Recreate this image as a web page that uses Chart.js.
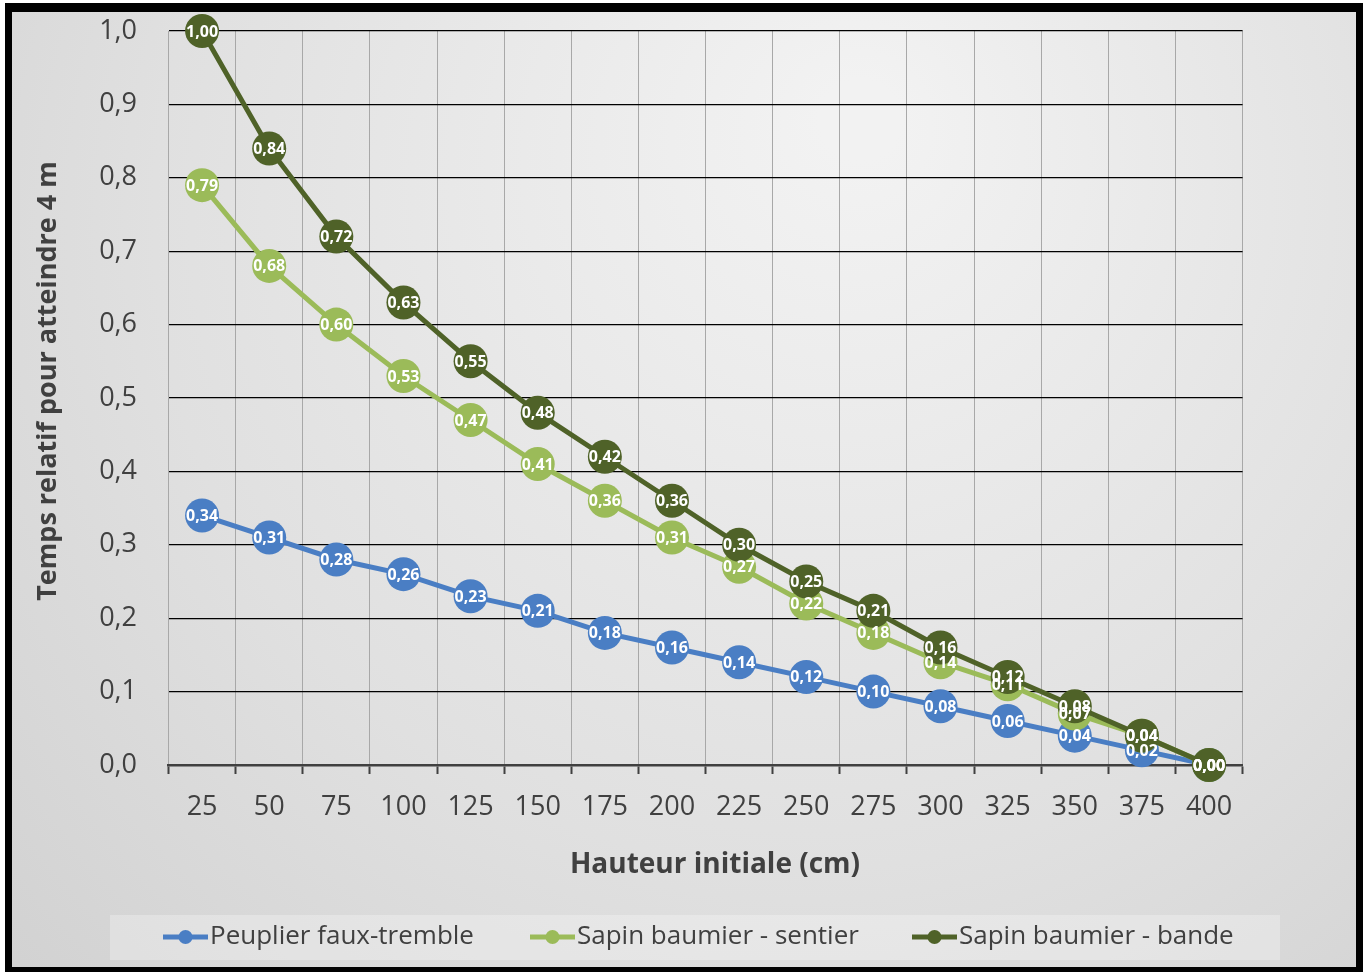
<!DOCTYPE html>
<html lang="fr">
<head>
<meta charset="utf-8">
<title>Temps relatif pour atteindre 4 m</title>
<script src="https://cdn.jsdelivr.net/npm/chart.js@4/dist/chart.umd.min.js"></script>
<style>
  html, body { margin: 0; padding: 0; background: #ffffff; }
  #wrap { position: relative; width: 1367px; height: 972px; }
  canvas { display: block; }
</style>
</head>
<body>
<div id="wrap"><canvas id="chart" width="1367" height="972"></canvas></div>
<script>
// Hauteur initiale (cm)
const categories = ['25', '50', '75', '100', '125', '150', '175', '200', '225', '250', '275', '300', '325', '350', '375', '400'];

// Temps relatif pour atteindre 4 m
const peuplier = [0.34, 0.31, 0.28, 0.26, 0.23, 0.21, 0.18, 0.16, 0.14, 0.12, 0.10, 0.08, 0.06, 0.04, 0.02, 0.00];
const sapinSentier = [0.79, 0.68, 0.60, 0.53, 0.47, 0.41, 0.36, 0.31, 0.27, 0.22, 0.18, 0.14, 0.11, 0.07, 0.04, 0.00];
const sapinBande = [1.00, 0.84, 0.72, 0.63, 0.55, 0.48, 0.42, 0.36, 0.30, 0.25, 0.21, 0.16, 0.12, 0.08, 0.04, 0.00];

const seriesNames = ['Peuplier faux-tremble', 'Sapin baumier - sentier', 'Sapin baumier - bande'];
const seriesColors = ['#4a7ec4', '#9bbb59', '#4f6228'];

const yTitle = 'Temps relatif pour atteindre 4 m';
const xTitle = 'Hauteur initiale (cm)';

const TICK_FONT = '"Open Sans", "DejaVu Sans", sans-serif';
const TITLE_FONT = '"Open Sans", Lato, sans-serif';

function frName(v, digits) {
  return v.toFixed(digits).replace('.', ',');
}

function makeDataset(label, data, color, order) {
  return {
    label: label,
    data: data,
    borderColor: color,
    backgroundColor: color,
    borderWidth: 5,
    pointRadius: 17,
    pointHoverRadius: 17,
    pointBorderWidth: 0,
    pointBackgroundColor: color,
    tension: 0,
    clip: false,
    order: order
  };
}

// Frame, gradient background and legend strip
const backdrop = {
  id: 'backdrop',
  beforeDraw(chart) {
    const ctx = chart.ctx;
    ctx.save();
    ctx.fillStyle = '#ffffff';
    ctx.fillRect(0, 0, chart.width, chart.height);
    ctx.fillStyle = '#000000';
    ctx.fillRect(5, 3, 1358, 969);
    const g = ctx.createRadialGradient(860, 120, 40, 760, 300, 1150);
    g.addColorStop(0, '#f2f2f2');
    g.addColorStop(0.55, '#e0e0e0');
    g.addColorStop(1, '#cdcdcd');
    ctx.fillStyle = g;
    ctx.fillRect(12, 12, 1344, 955);
    // legend strip
    ctx.fillStyle = 'rgba(255,255,255,0.28)';
    ctx.fillRect(110, 915, 1170, 45);
    ctx.restore();
  }
};

// Axis titles
const axisTitles = {
  id: 'axisTitles',
  afterDraw(chart) {
    const ctx = chart.ctx;
    ctx.save();
    ctx.fillStyle = '#404040';
    ctx.textAlign = 'center';
    ctx.textBaseline = 'middle';
    ctx.font = 'bold 28px ' + TITLE_FONT;
    ctx.fillText(xTitle, 715, 865);
    ctx.font = 'bold 27px ' + TITLE_FONT;
    ctx.translate(48, 381);
    ctx.rotate(-Math.PI / 2);
    ctx.fillText(yTitle, 0, 0);
    ctx.restore();
  }
};

// Value labels inside the markers, drawn after every series
const valueLabels = {
  id: 'valueLabels',
  afterDatasetsDraw(chart) {
    const ctx = chart.ctx;
    ctx.save();
    ctx.fillStyle = '#ffffff';
    ctx.font = 'bold 16px ' + TITLE_FONT;
    ctx.textAlign = 'center';
    ctx.textBaseline = 'middle';
    chart.data.datasets.forEach((ds, i) => {
      const meta = chart.getDatasetMeta(i);
      meta.data.forEach((pt, j) => {
        ctx.fillText(frName(ds.data[j], 2), pt.x, pt.y + 1);
      });
    });
    ctx.restore();
  }
};

// Legend: line with a round marker, then the series name
const legendRow = {
  id: 'legendRow',
  afterDraw(chart) {
    const ctx = chart.ctx;
    const starts = [163, 530, 912];
    const y = 937;
    ctx.save();
    ctx.font = '26px ' + TITLE_FONT;
    ctx.textBaseline = 'middle';
    ctx.textAlign = 'left';
    seriesNames.forEach((name, i) => {
      const x = starts[i];
      ctx.strokeStyle = seriesColors[i];
      ctx.lineWidth = 5;
      ctx.beginPath();
      ctx.moveTo(x, y);
      ctx.lineTo(x + 45, y);
      ctx.stroke();
      ctx.fillStyle = seriesColors[i];
      ctx.beginPath();
      ctx.arc(x + 22.5, y, 7, 0, Math.PI * 2);
      ctx.fill();
      ctx.fillStyle = '#404040';
      ctx.fillText(name, x + 47, y);
    });
    ctx.restore();
  }
};

const chart = new Chart(document.getElementById('chart'), {
  type: 'line',
  data: {
    labels: categories,
    datasets: [
      makeDataset(seriesNames[0], peuplier, seriesColors[0], 2),
      makeDataset(seriesNames[1], sapinSentier, seriesColors[1], 1),
      makeDataset(seriesNames[2], sapinBande, seriesColors[2], 0)
    ]
  },
  options: {
    responsive: false,
    animation: false,
    devicePixelRatio: 1,
    layout: { padding: { left: 0, right: 124.4, top: 31, bottom: 147 } },
    plugins: {
      legend: { display: false },
      tooltip: { enabled: false }
    },
    scales: {
      x: {
        offset: true,
        grid: {
          offset: true,
          color: '#a8a8a8',
          lineWidth: 1,
          drawTicks: true,
          tickLength: 9,
          tickColor: '#404040',
          tickWidth: 2
        },
        border: { display: true, color: '#404040', width: 2.5 },
        ticks: {
          color: '#404040',
          font: { family: TICK_FONT, size: 27 },
          padding: 17,
          maxRotation: 0,
          autoSkip: false
        },
        afterFit(scale) {
          scale.height = 60;
          scale.paddingTop = 0;
          scale.paddingBottom = 0;
        }
      },
      y: {
        min: 0,
        max: 1,
        grid: {
          color: '#000000',
          lineWidth: 1.2,
          drawTicks: false
        },
        border: { display: false },
        ticks: {
          stepSize: 0.1,
          color: '#404040',
          font: { family: TICK_FONT, size: 27 },
          padding: 31.5,
          callback: (v) => frName(v, 1)
        },
        afterFit(scale) {
          scale.width = 168.5;
          scale.paddingTop = 0;
          scale.paddingBottom = 0;
        }
      }
    }
  },
  plugins: [backdrop, valueLabels, axisTitles, legendRow]
});
</script>
</body>
</html>
